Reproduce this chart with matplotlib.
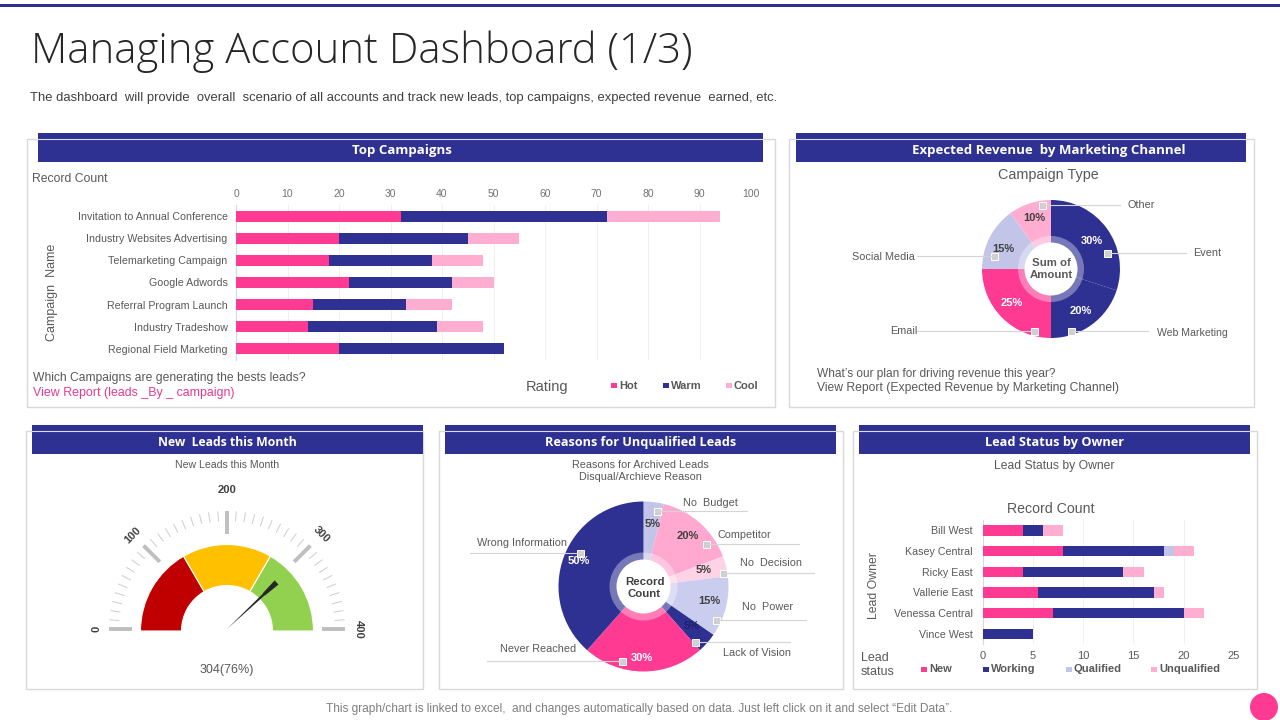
import matplotlib
matplotlib.use("Agg")
import matplotlib.pyplot as plt
from matplotlib.patches import Wedge, Rectangle, Circle, Polygon
import numpy as np

plt.rcParams['font.family'] = ['Liberation Sans', 'DejaVu Sans']

W, H = 1280, 720
NAVY = '#2E3192'
PINK = '#FF3A93'
LPINK = '#FFAED2'
LAV = '#C3C5E8'
GREY = '#595959'

# ---- data ----
campaigns = ['Invitation to Annual Conference', 'Industry Websites Advertising', 'Telemarketing Campaign',
             'Google Adwords', 'Referral Program Launch', 'Industry Tradeshow', 'Regional Field Marketing']
camp_hot = [32, 20, 18, 22, 15, 14, 20]
camp_warm = [40, 25, 20, 20, 18, 25, 32]
camp_cool = [22, 10, 10, 8, 9, 9, 0]

channels = ['Event', 'Web Marketing', 'Email', 'Social Media', 'Other']
channel_share = [30, 20, 25, 15, 10]

gauge_value = 304
gauge_max = 400
gauge_bounds = [0, 133, 267, 400]
gauge_colors = ['#C00000', '#FFC000', '#92D050']
gauge_labels = [0, 100, 200, 300, 400]

reasons = ['No Budget', 'Competitor', 'No Decision', 'No Power', 'Lack of Vision', 'Never Reached', 'Wrong Information']
reason_share = [5, 20, 5, 15, 5, 30, 50]

owners = ['Bill West', 'Kasey Central', 'Ricky East', 'Vallerie East', 'Venessa Central', 'Vince West']
own_new = [4, 8, 4, 5.5, 7, 0]
own_working = [2, 10, 10, 11.5, 13, 5]
own_qualified = [0, 1, 0, 0, 0, 0]
own_unqualified = [2, 2, 2, 1, 2, 0]


fig = plt.figure(figsize=(12.8, 7.2), dpi=100, facecolor='white')


def px_axes(x0, y0, x1, y1, z=2):
    ax = fig.add_axes([x0 / W, 1 - y1 / H, (x1 - x0) / W, (y1 - y0) / H], zorder=z)
    ax.patch.set_alpha(0)
    return ax


# background layer in pixel coordinates
bg = px_axes(0, 0, W, H, z=0)
bg.set_xlim(0, W)
bg.set_ylim(H, 0)
bg.axis('off')
# overlay layer in pixel coordinates
ov = px_axes(0, 0, W, H, z=5)
ov.set_xlim(0, W)
ov.set_ylim(H, 0)
ov.axis('off')


def T(x, y, s, size=9, color=GREY, ha='left', va='center', **kw):
    ov.text(x, y, s, fontsize=size, color=color, ha=ha, va=va, **kw)


bg.add_patch(Rectangle((0, 4), W, 3, color=NAVY, lw=0))
T(31, 52, 'Managing Account Dashboard (1/3)', size=30.2, color='#262626', family=['Open Sans', 'DejaVu Sans'], fontweight='light')
T(30, 98, 'The dashboard  will provide  overall  scenario of all accounts and track new leads, top campaigns, expected revenue  earned, etc.',
  size=9.4, color='#404040')


def panel(fx0, fy0, fx1, fy1, hx0, hx1, hy0, hy1, title, cx, size):
    bg.add_patch(Rectangle((fx0, fy0), fx1 - fx0, fy1 - fy0, fc='none', ec='#D9D9D9', lw=1))
    ov.add_patch(Rectangle((hx0, hy0), hx1 - hx0, hy1 - hy0, fc=NAVY, ec='none'))
    ov.plot([hx0, hx1], [fy0, fy0], color='#DADBEE', lw=0.8)
    T(cx, hy1 - 11.5, title, size=size, color='white', ha='center',
      fontweight='bold', family=['Open Sans', 'DejaVu Sans'])


panel(27, 139, 775, 407, 38, 763, 133, 162, 'Top Campaigns', 401.5, 9.5)
panel(789, 139, 1254, 407, 796, 1246, 133, 162, 'Expected Revenue  by Marketing Channel', 1048.5, 9.5)
panel(26, 431, 423, 689, 32, 423, 425, 454, 'New  Leads this Month', 227.5, 8.8)
panel(439, 431, 843, 689, 445, 836, 425, 454, 'Reasons for Unqualified Leads', 640.5, 9.1)
panel(853, 431, 1257, 689, 859, 1250, 425, 454, 'Lead Status by Owner', 1054.5, 9.2)


def stacked(ax, labels, series, colors, height):
    y = np.arange(len(labels))
    left = np.zeros(len(labels))
    for vals, c in zip(series, colors):
        ax.barh(y, vals, left=left, color=c, height=height, zorder=3)
        left += np.array(vals, dtype=float)
    ax.set_yticks(y)
    ax.set_yticklabels(labels)
    ax.grid(axis='x', color='#F0F0F0', lw=0.7, zorder=0)
    for s in ['top', 'right', 'bottom']:
        ax.spines[s].set_visible(False)
    ax.spines['left'].set_color('#D9D9D9')
    ax.tick_params(length=0, colors=GREY)


# ---- Top campaigns ----
a1 = px_axes(236, 205, 751, 360)
stacked(a1, campaigns, [camp_hot, camp_warm, camp_cool], [PINK, NAVY, LPINK], 0.5)
a1.set_xlim(0, 100)
a1.set_ylim(6.5, -0.5)
a1.set_xticks(range(0, 101, 10))
a1.xaxis.tick_top()
a1.tick_params(axis='x', labelsize=7.5, pad=4, labelcolor='#737373')
a1.tick_params(axis='y', labelsize=7.7, pad=6)
T(32, 179, 'Record Count', size=8.8)
T(52, 292, 'Campaign  Name', size=9, rotation=90, ha='center')
T(33, 377.5, 'Which Campaigns are generating the bests leads?', size=8.7)
T(33, 393, 'View Report (leads _By _ campaign)', size=8.9, color='#E8388F')
T(526, 387, 'Rating', size=10.5)
for x, lab, c in [(611, 'Hot', PINK), (663, 'Warm', NAVY), (726, 'Cool', LPINK)]:
    ov.add_patch(Rectangle((x, 383), 6, 5, fc=c, ec='none'))
    T(x + 8, 386, lab, size=8, fontweight='bold')

# ---- Donut ----
R = 69
a2 = px_axes(1051 - R, 269 - R, 1051 + R, 269 + R)
wedges, _ = a2.pie(channel_share, startangle=90, counterclock=False, radius=1,
                   colors=[NAVY, NAVY, PINK, LAV, LPINK], wedgeprops=dict(lw=0))
a2.set_xlim(-1, 1)
a2.set_ylim(-1, 1)
a2.add_patch(Circle((0, 0), 33 / R, fc='white', ec='none', alpha=0.35))
a2.add_patch(Circle((0, 0), 26.5 / R, fc='white', ec='none'))
T(1048, 174.5, 'Campaign Type', size=10.4, ha='center')
T(1051.5, 269, 'Sum of\nAmount', size=8.2, ha='center', fontweight='bold', linespacing=1.25)
for x, y, s, c in [(1092, 241, '30%', 'white'), (1081, 311, '20%', 'white'), (1012, 303, '25%', 'white'),
                   (1003, 249, '15%', '#404040'), (1034, 218, '10%', '#404040')]:
    T(x, y, s, size=8, ha='center', color=c, fontweight='bold')
for pts, sq in [([(1042, 205), (1120, 205)], (1042, 205)), ([(1107, 253), (1186, 253)], (1107, 253)),
                ([(1071, 331), (1148, 331)], (1071, 331)), ([(917, 331), (1034, 331)], (1034, 331)),
                ([(917, 256), (994, 256)], (994, 256))]:
    ov.plot(*zip(*pts), color='#D4D4D4', lw=0.8)
    ov.add_patch(Rectangle((sq[0] - 3.5, sq[1] - 3.5), 7, 7, fc='#CFCFCF', ec='white', lw=0.7))
T(1127, 204.5, 'Other', size=7.8)
T(1193, 253.5, 'Event', size=7.8)
T(1157, 332.5, 'Web Marketing', size=7.6)
T(890, 331.5, 'Email', size=7.8)
T(852, 256.5, 'Social Media', size=7.8)
T(817, 373.5, "What\u2019s our plan for driving revenue this year?", size=8.6)
T(817, 388.5, 'View Report (Expected Revenue by Marketing Channel)', size=8.7)

# ---- Gauge ----
a3 = px_axes(227 - 150, 629 - 150, 227 + 150, 629 + 150)
a3.set_xlim(-150, 150)
a3.set_ylim(-150, 150)
a3.axis('off')


def ang(v):
    return 180 - v / gauge_max * 180


for i, c in enumerate(gauge_colors):
    a3.add_patch(Wedge((0, -2), 86.5, ang(gauge_bounds[i + 1]), ang(gauge_bounds[i]), width=41,
                       fc=c, ec='white', lw=0.8))
for v in np.arange(0, gauge_max + 1, 10):
    t = np.radians(ang(v))
    major = v % 100 == 0
    r0, r1 = (95, 118) if major else (108, 118)
    a3.plot([r0 * np.cos(t), r1 * np.cos(t)], [r0 * np.sin(t), r1 * np.sin(t)],
            color='#BFBFBF' if major else '#CDCDCD', lw=2.8 if major else 0.7, solid_capstyle='butt')
for v, r in zip(gauge_labels, [130, 133, 139, 133, 132]):
    t = np.radians(ang(v))
    a3.text(r * np.cos(t), r * np.sin(t), str(v), fontsize=8, color='#404040', fontweight='bold',
            rotation=ang(v) - 90, ha='center', va='center')
t = np.radians(ang(gauge_value))
u = np.array([np.cos(t), np.sin(t)])
n = np.array([-u[1], u[0]])
needle = [u * 0, u * 50 + n * 1.2, u * 51 + n * 1.6, u * 68 + n * 2.8, u * 68 - n * 2.8, u * 51 - n * 1.6, u * 50 - n * 1.2]
a3.add_patch(Polygon(needle, fc='#262626', ec='none'))
T(227.5, 464.5, 'New Leads this Month', size=7.6, ha='center')
T(227, 670, '304(76%)', size=9, ha='center')

# ---- Reasons pie ----
R = 85
a4 = px_axes(643.5 - R, 586.5 - R, 643.5 + R, 586.5 + R)
a4.pie(reason_share, startangle=90, counterclock=False, radius=1,
       colors=[LAV, '#FFA9D1', '#FFD3E6', '#CBCDEE', NAVY, PINK, NAVY], wedgeprops=dict(lw=0))
a4.set_xlim(-1, 1)
a4.set_ylim(-1, 1)
a4.add_patch(Circle((0, 0), 34 / R, fc='white', ec='none', alpha=0.35))
a4.add_patch(Circle((0, 0), 27 / R, fc='white', ec='none'))
T(640, 464.5, 'Reasons for Archived Leads', size=7.8, ha='center')
T(640, 477.5, 'Disqual/Archieve Reason', size=7.8, ha='center')
T(644.5, 588, 'Record\nCount', size=8.2, ha='center', fontweight='bold', color='#404040', linespacing=1.25)
for x, y, s, c in [(653, 524, '5%', '#404040'), (688, 536, '20%', '#404040'), (704, 570, '5%', '#404040'),
                   (709, 601, '15%', '#404040'), (692, 626, '5%', '#1F2268'), (642, 658, '30%', 'white'),
                   (579, 561, '50%', 'white')]:
    T(x, y, s, size=8, ha='center', color=c, fontweight='bold')
for pts, sq in [([(657, 511), (747, 511)], (657, 511)), ([(706, 544), (799, 544)], (706, 544)),
                ([(723, 573), (814, 573)], (723, 573)), ([(716, 620), (806, 620)], (716, 620)),
                ([(695, 642), (790, 642)], (695, 642)), ([(487, 661), (622, 661)], (622, 661)),
                ([(470, 553), (580, 553)], (580, 553))]:
    ov.plot(*zip(*pts), color='#D4D4D4', lw=0.8)
    ov.add_patch(Rectangle((sq[0] - 3.5, sq[1] - 3.5), 7, 7, fc='#CFCFCF', ec='white', lw=0.7))
T(683, 502.5, 'No  Budget', size=7.8)
T(718, 534.5, 'Competitor', size=7.8)
T(740, 562.5, 'No  Decision', size=7.8)
T(742, 607.5, 'No  Power', size=7.8)
T(723, 652.5, 'Lack of Vision', size=7.8)
T(500, 648.5, 'Never Reached', size=7.8)
T(477, 542.5, 'Wrong Information', size=7.8)

# ---- Lead status ----
a5 = px_axes(982.7, 520, 1234, 644)
stacked(a5, owners, [own_new, own_working, own_qualified, own_unqualified], [PINK, NAVY, LAV, LPINK], 0.5)
a5.set_xlim(0, 25)
a5.set_ylim(5.5, -0.5)
a5.set_xticks(range(0, 26, 5))
a5.tick_params(axis='x', labelsize=8, pad=5)
a5.tick_params(axis='y', labelsize=7.7, pad=7)
T(1050.5, 509, 'Record Count', size=10.2, ha='center')
T(1054.5, 465.5, 'Lead Status by Owner', size=8.7, ha='center')
T(874, 586, 'Lead Owner', size=8.8, rotation=90, ha='center')
T(861, 658, 'Lead', size=9)
T(861, 672, 'status', size=9)
for x, lab, c in [(921, 'New', PINK), (983, 'Working', NAVY), (1066, 'Qualified', LAV), (1151, 'Unqualified', LPINK)]:
    ov.add_patch(Rectangle((x, 667), 5.5, 5, fc=c, ec='none'))
    T(x + 8, 669.5, lab, size=8, fontweight='bold')

# ---- Footer ----
T(639, 709, 'This graph/chart is linked to excel,  and changes automatically based on data. Just left click on it and select \u201cEdit Data\u201d.',
  size=8.55, color='#7F7F7F', ha='center')
ov.add_patch(Circle((1264, 707), 14, fc=PINK, ec='none'))

fig.savefig('out.png', dpi=100)
